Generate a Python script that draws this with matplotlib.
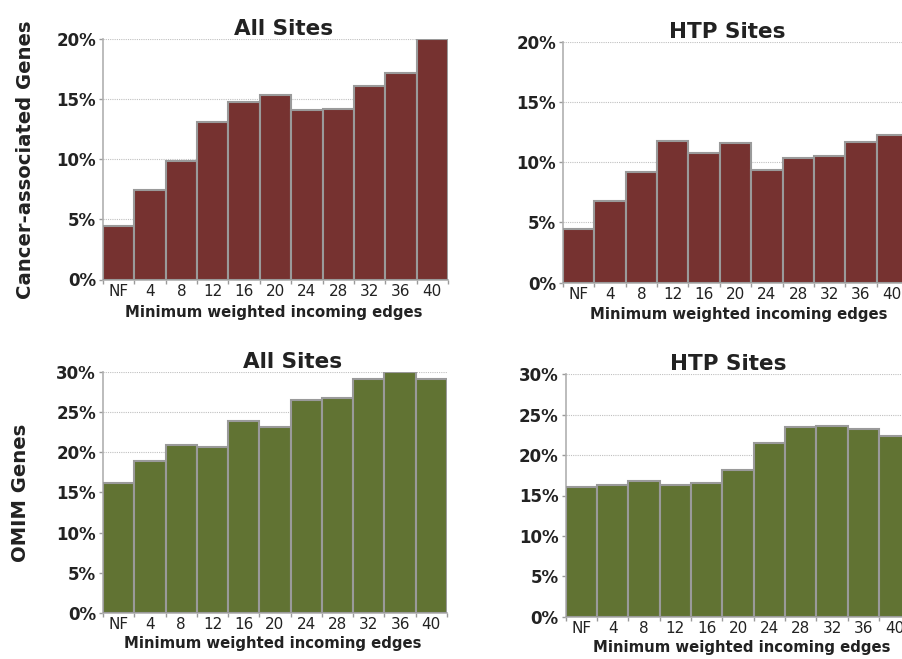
import matplotlib
matplotlib.use("Agg")
import matplotlib.pyplot as plt
import numpy as np

plt.rcParams['font.family'] = ['DejaVu Sans']

categories = ["NF", "4", "8", "12", "16", "20", "24", "28", "32", "36", "40"]
cancer_all = [4.47, 7.43, 9.82, 13.07, 14.73, 15.37, 14.09, 14.17, 16.12, 17.17, 20.0]
cancer_htp = [4.48, 6.80, 9.18, 11.73, 10.76, 11.62, 9.32, 10.35, 10.54, 11.65, 12.23]
omim_all = [16.18, 18.91, 20.85, 20.69, 23.91, 23.09, 26.44, 26.77, 29.04, 30.0, 29.09]
omim_htp = [16.09, 16.26, 16.80, 16.34, 16.55, 18.12, 21.50, 23.48, 23.61, 23.24, 22.37]

red = "#763230"
green = "#617333"
edge = "#9a9a9a"
W, H = 902, 659

fig = plt.figure(figsize=(W / 100, H / 100), dpi=100)


def px_axes(left, right, top, bottom):
    return fig.add_axes([left / W, (H - bottom) / H, (right - left) / W, (bottom - top) / H])


panels = [
    # left, right, top, bottom, data, color, ymax, title, title_x, title_dy, ylabel, ylab_xy, xlab_xy
    (103, 448, 39, 279.5, cancer_all, red, 20, "All Sites", 0.522, 18,
     "Cancer-associated Genes", (-0.226, 0.497), (0.496, -0.138)),
    (563, 908, 41.7, 282.7, cancer_htp, red, 20, "HTP Sites", 0.477, 15.7,
     None, None, (0.51, -0.134)),
    (103, 447, 371.7, 613.3, omim_all, green, 30, "All Sites", 0.552, 20,
     "OMIM Genes", (-0.241, 0.50), (0.494, -0.123)),
    (565.7, 910.5, 374.3, 616.7, omim_htp, green, 30, "HTP Sites", 0.47, 16,
     None, None, (0.51, -0.129)),
]

for (l, r, t, b, data, col, ymax, title, tx, tdy, ylab, ylxy, xlxy) in panels:
    ax = px_axes(l, r, t, b)
    x = np.arange(len(categories))
    ax.bar(x, data, width=1.0, color=col, edgecolor=edge, linewidth=1.5, zorder=3)
    ax.set_xlim(-0.5, len(categories) - 0.5)
    ax.set_ylim(0, ymax)
    yt = np.arange(0, ymax + 1, 5)
    ax.set_yticks(yt)
    ax.set_yticklabels([f"{int(v)}%" for v in yt], fontsize=12, fontweight='bold', color="#222222")
    ax.set_xticks(x)
    ax.set_xticklabels(categories, fontsize=11, color="#222222")
    ax.set_xticks(np.arange(-0.5, len(categories), 1.0), minor=True)
    ax.tick_params(axis='x', which='major', length=0, pad=3)
    ax.tick_params(axis='x', which='minor', length=3, color=edge, width=1)
    ax.tick_params(axis='y', length=3, color=edge, width=1, pad=2)
    for s in ['top', 'right']:
        ax.spines[s].set_visible(False)
    for s in ['left', 'bottom']:
        ax.spines[s].set_color("#b0b0b0")
        ax.spines[s].set_linewidth(1.2)
    ax.grid(axis='y', linestyle=(0, (1, 1)), color="#c0c0c0", linewidth=0.8, zorder=0)
    ax.set_axisbelow(True)
    ttl = ax.set_title(title, fontsize=15.5, fontweight='bold', color="#222222", x=tx, pad=0)
    ttl.set_va('center')
    ttl.set_y(1 + tdy / (b - t))
    ax.set_xlabel("Minimum weighted incoming edges", fontsize=10.7, fontweight='bold', color="#222222")
    ax.xaxis.set_label_coords(*xlxy)
    ax.xaxis.label.set_va('center')
    if ylab:
        ax.set_ylabel(ylab, fontsize=14.1, fontweight='bold', color="#222222")
        ax.yaxis.set_label_coords(*ylxy)
        ax.yaxis.label.set_va('center')

fig.savefig("out.png", dpi=100)
